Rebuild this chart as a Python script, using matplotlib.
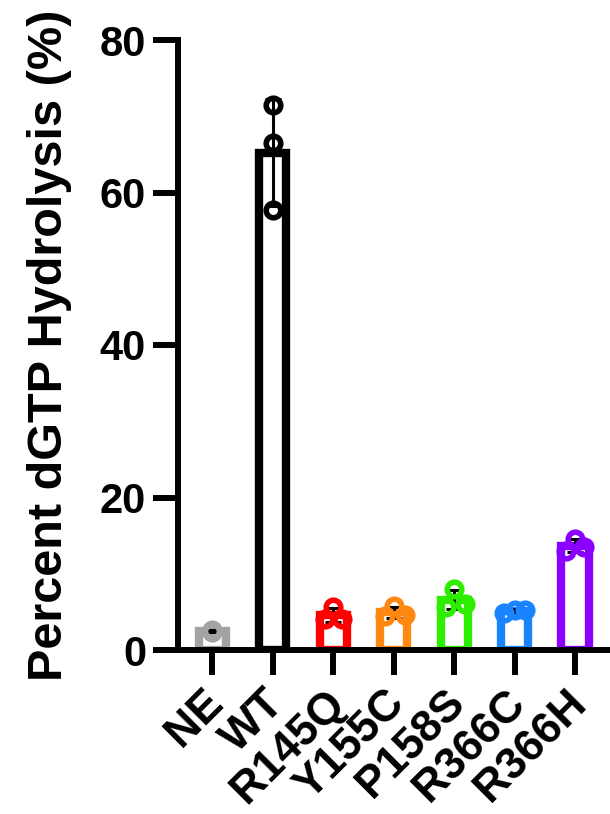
import numpy as np
import matplotlib
matplotlib.use("Agg")
import matplotlib.pyplot as plt
import matplotlib.transforms as mtransforms

# data
groups = ["NE", "WT", "R145Q", "Y155C", "P158S", "R366C", "R366H"]
colours = ["#A3A3A3", "#000000", "#FF0000", "#FF8810", "#2EEE00", "#1A84FF", "#8A00FF"]
ne_pts = [2.4, 2.6, 2.5]
wt_pts = [71.5, 66.5, 57.7]
r145q_pts = [4.1, 5.7, 4.1]
y155c_pts = [4.4, 5.8, 4.6]
p158s_pts = [5.7, 8.0, 6.0]
r366c_pts = [4.9, 5.3, 5.2]
r366h_pts = [13.0, 14.6, 13.5]
points = [ne_pts, wt_pts, r145q_pts, y155c_pts, p158s_pts, r366c_pts, r366h_pts]
# horizontal scatter of the replicate dots inside each bar
spread = [[0, 0, 0], [0, 0, 0], [-0.14, 0, 0.15], [-0.15, 0, 0.19],
          [-0.13, 0, 0.18], [-0.17, 0, 0.17], [-0.15, 0, 0.15]]

plt.rcParams['font.family'] = ['Liberation Sans', 'DejaVu Sans']
plt.rcParams['font.weight'] = 'bold'

fig = plt.figure(figsize=(6.1, 8.14), dpi=100)
ax = fig.add_axes([178/610, 164/814, 1 - 178/610, 610/814])

x = np.arange(len(groups))
means = [np.mean(p) for p in points]
sds = [np.std(p, ddof=1) for p in points]

ax.bar(x, means, width=0.45, facecolor='none', edgecolor=colours, linewidth=6, zorder=2)
ax.errorbar(x, means, yerr=sds, fmt='none', ecolor='black', elinewidth=2.2,
            capsize=6, capthick=2.2, zorder=3)
for i, pts in enumerate(points):
	ax.plot(x[i] + np.array(spread[i]), pts, 'o', ms=10.5, mew=4,
	        mfc='none', mec=colours[i], zorder=4, clip_on=False)

ax.set_xlim(-0.57, 6.58)
ax.set_ylim(0, 80)
ax.set_yticks([0, 20, 40, 60, 80])
ax.set_xticks(x)
ax.set_xticklabels(groups, rotation=45, ha='right', va='top', rotation_mode='anchor')
ax.tick_params(axis='both', width=4.3, length=18)
ax.tick_params(axis='y', labelsize=30, pad=5)
ax.tick_params(axis='x', labelsize=32, pad=5)
# nudge the slanted labels a little to the left, as in the original
shift = mtransforms.ScaledTranslation(-10/100, 0, fig.dpi_scale_trans)
for lab in ax.get_xticklabels():
	lab.set_transform(lab.get_transform() + shift)
for lab in ax.get_xticklabels() + ax.get_yticklabels():
	lab.set_fontweight('bold')
ax.spines['top'].set_visible(False)
ax.spines['right'].set_visible(False)
ax.spines['left'].set_linewidth(4.3)
ax.spines['bottom'].set_linewidth(4.3)
ax.set_ylabel("Percent dGTP Hydrolysis (%)", fontsize=35, fontweight='bold')
ax.yaxis.set_label_coords(-0.245, 0.5)

fig.savefig("out.png", dpi=100)
